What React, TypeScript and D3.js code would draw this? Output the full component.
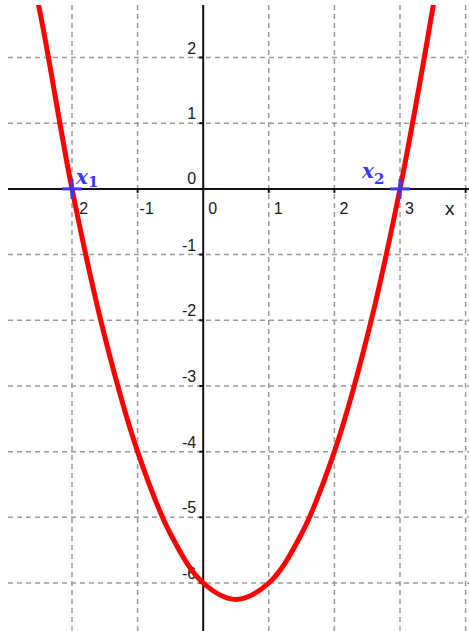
import { useEffect, useRef } from 'react';
import * as d3 from 'd3';

// points
const curveX = [-2.75, -2.5, -2, -1.5, -1, -0.5, 0, 0.5, 1, 1.5, 2, 2.5, 3, 3.5, 3.75];
const curveY = [3.81, 2.75, 0, -2.25, -4, -5.25, -6, -6.25, -6, -5.25, -4, -2.25, 0, 2.75, 4.31];

const xTicks = [-2, -1, 0, 1, 2, 3, 4];
const yTicks = [2, 1, -1, -2, -3, -4, -5, -6];
const xTickLabels = ['-2', '-1', '0', '1', '2', '3'];
const yTickLabels = ['2', '1', '-1', '-2', '-3', '-4', '-5', '-6'];

const roots = [-2, 3];
const rootNames = ['1', '2'];

const App = () => {
    const ref = useRef<SVGSVGElement>(null);

    useEffect(() => {
        if (!ref.current) return;
        const width = 469;
        const height = 631;
        const left = 8, top = 5;

        const svg = d3.select(ref.current);
        svg.selectAll('*').remove();

        const x = d3.scaleLinear().domain([-2, 3]).range([72, 400]);
        const y = d3.scaleLinear().domain([2, -6]).range([57.5, 583]);

        svg.append('defs').append('clipPath').attr('id', 'plot')
            .append('rect')
            .attr('x', left).attr('y', top)
            .attr('width', width - left).attr('height', height - top);

        // dashed grid
        const grid = svg.append('g')
            .attr('stroke', '#9a9a9a')
            .attr('stroke-width', 1.5)
            .attr('stroke-dasharray', '5,4');
        grid.selectAll('line.v')
            .data(xTicks.filter(d => d !== 0))
            .join('line')
            .attr('x1', d => x(d)).attr('x2', d => x(d))
            .attr('y1', top).attr('y2', height);
        grid.selectAll('line.h')
            .data(yTicks)
            .join('line')
            .attr('class', 'h')
            .attr('y1', d => y(d)).attr('y2', d => y(d))
            .attr('x1', left).attr('x2', width);

        // axes
        const axes = svg.append('g').attr('stroke', '#111').attr('stroke-width', 2);
        axes.append('line')
            .attr('x1', left).attr('x2', width)
            .attr('y1', y(0)).attr('y2', y(0));
        axes.append('line')
            .attr('x1', x(0)).attr('x2', x(0))
            .attr('y1', top).attr('y2', height);
        axes.selectAll('line.tx')
            .data(xTicks.filter(d => d !== 0))
            .join('line')
            .attr('class', 'tx')
            .attr('x1', d => x(d)).attr('x2', d => x(d))
            .attr('y1', y(0)).attr('y2', y(0) + 4);
        axes.selectAll('line.ty')
            .data(yTicks)
            .join('line')
            .attr('class', 'ty')
            .attr('y1', d => y(d)).attr('y2', d => y(d))
            .attr('x1', x(0) - 4).attr('x2', x(0));

        // tick labels
        const labels = svg.append('g')
            .attr('font-family', '"Liberation Sans", Arial, sans-serif')
            .attr('font-size', 16)
            .attr('fill', '#1a1a1a');
        labels.selectAll('text.xl')
            .data(xTickLabels)
            .join('text')
            .attr('class', 'xl')
            .attr('x', d => x(+d) + (+d < 0 ? 2 : 5))
            .attr('y', y(0) + 25)
            .text(d => d);
        labels.selectAll('text.yl')
            .data(yTickLabels)
            .join('text')
            .attr('class', 'yl')
            .attr('text-anchor', 'end')
            .attr('x', x(0) - 7)
            .attr('y', d => y(+d) - 4)
            .text(d => d);
        labels.append('text')
            .attr('text-anchor', 'end')
            .attr('x', x(0) - 7)
            .attr('y', y(0) - 5)
            .text('0');
        labels.append('text')
            .attr('x', 445)
            .attr('y', y(0) + 26)
            .attr('font-size', 19)
            .text('x');

        // parabola
        const pts = curveX.map((d, i) => [d, curveY[i]] as [number, number]);
        const line = d3.line<[number, number]>()
            .x(d => x(d[0]))
            .y(d => y(d[1]))
            .curve(d3.curveCatmullRom.alpha(0.5));
        svg.append('path')
            .attr('clip-path', 'url(#plot)')
            .attr('d', line(pts))
            .attr('fill', 'none')
            .attr('stroke', '#ff0000')
            .attr('stroke-width', 5)
            .attr('stroke-linejoin', 'round');

        // roots
        const blue = '#3838ff';
        const marks = svg.append('g').attr('stroke', blue).attr('stroke-width', 3);
        roots.forEach(r => {
            marks.append('line')
                .attr('x1', x(r) - 10).attr('x2', x(r) + 10)
                .attr('y1', y(0)).attr('y2', y(0));
            marks.append('line')
                .attr('x1', x(r)).attr('x2', x(r))
                .attr('y1', y(0) - 10).attr('y2', y(0) + 10);
        });

        const rootLabelPos = [[76, 184], [362, 178]];
        roots.forEach((r, i) => {
            const t = svg.append('text')
                .attr('x', rootLabelPos[i][0])
                .attr('y', rootLabelPos[i][1])
                .attr('fill', blue)
                .attr('font-family', '"DejaVu Serif", "Liberation Serif", serif')
                .attr('font-weight', 'bold');
            t.append('tspan')
                .attr('font-style', 'italic')
                .attr('font-size', 20)
                .text('x');
            t.append('tspan')
                .attr('font-size', 15)
                .attr('dx', 0)
                .attr('dy', i === 0 ? 3 : 6)
                .text(rootNames[i]);
        });
    }, []);

    return (
        <svg
            ref={ref}
            width={469}
            height={631}
            style={{ position: 'absolute', left: 0, top: 0, background: '#fff' }}
        />
    );
};

export default App;
